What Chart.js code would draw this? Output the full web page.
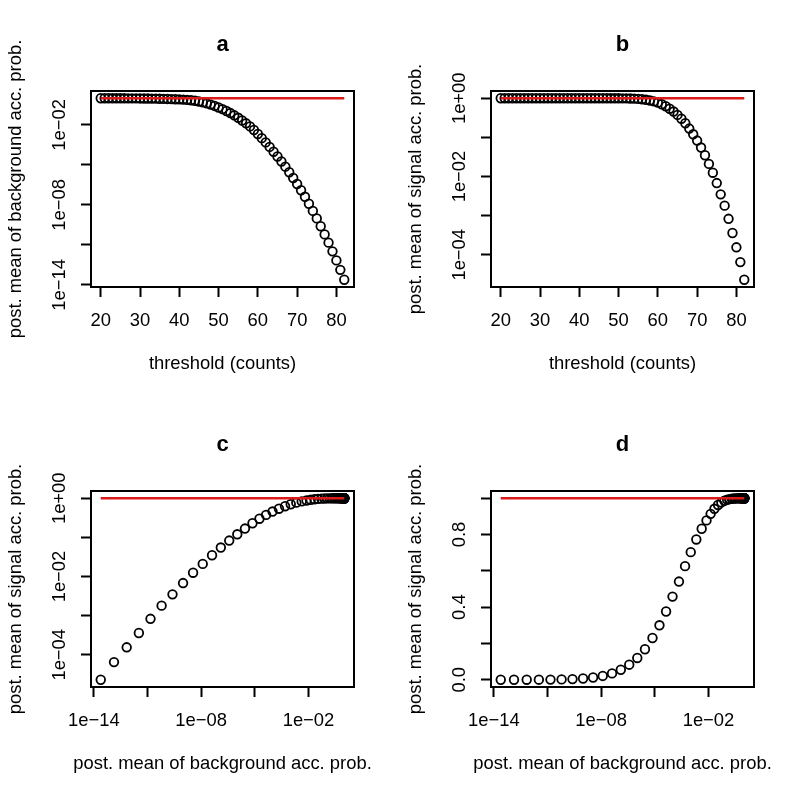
<!DOCTYPE html>
<html>
<head>
<meta charset="utf-8">
<script src="https://cdn.jsdelivr.net/npm/chart.js@4"></script>
<style>
  html, body { margin: 0; padding: 0; background: #fff; }
  #panels { display: grid; grid-template-columns: 400px 400px; width: 800px; height: 800px; }
  canvas { display: block; }
</style>
</head>
<body>
<div id="panels">
  <canvas id="panelA" width="400" height="400"></canvas>
  <canvas id="panelB" width="400" height="400"></canvas>
  <canvas id="panelC" width="400" height="400"></canvas>
  <canvas id="panelD" width="400" height="400"></canvas>
</div>
<script>
// threshold (counts)
const thresholds = [20, 21, 22, 23, 24, 25, 26, 27, 28, 29, 30, 31, 32, 33, 34, 35, 36, 37, 38, 39,
  40, 41, 42, 43, 44, 45, 46, 47, 48, 49, 50, 51, 52, 53, 54, 55, 56, 57, 58, 59,
  60, 61, 62, 63, 64, 65, 66, 67, 68, 69, 70, 71, 72, 73, 74, 75, 76, 77, 78, 79,
  80, 81, 82];

// post. mean of background acc. prob. (one per threshold)
const bgAccProb = [0.9988, 0.9977, 0.9966, 0.9954, 0.9931, 0.9908, 0.9886, 0.9840, 0.9795, 0.9750,
  0.9683, 0.9616, 0.9528, 0.9419, 0.9311, 0.9183, 0.9036, 0.8872, 0.8670, 0.8453,
  0.8204, 0.7925, 0.7586, 0.7079, 0.6457, 0.5689, 0.4898, 0.4102, 0.3334, 0.2649,
  0.2042, 0.1531, 0.1109, 0.0776, 0.0525, 0.0343, 0.0216, 0.0132, 0.00776, 0.00417,
  0.00209, 0.00102, 4.90e-4, 2.24e-4, 9.77e-5, 4.27e-5, 1.82e-5, 7.41e-6, 2.82e-6, 1.05e-6,
  3.72e-7, 1.26e-7, 4.07e-8, 1.23e-8, 3.55e-9, 9.77e-10, 2.51e-10, 6.17e-11, 1.48e-11, 3.31e-12,
  6.92e-13, 1.35e-13, 2.45e-14];

// post. mean of signal acc. prob. (one per threshold)
const sigAccProb = [0.99999, 0.99999, 0.99999, 0.99999, 0.99999, 0.99999, 0.99999, 0.99999, 0.99999, 0.99999,
  0.99999, 0.99999, 0.99999, 0.99999, 0.99999, 0.99999, 0.99999, 0.99999, 0.99999, 0.99999,
  0.99999, 0.99998, 0.99996, 0.99993, 0.99988, 0.9998, 0.99965, 0.9994, 0.999, 0.9983,
  0.9971, 0.995, 0.9915, 0.986, 0.977, 0.963, 0.942, 0.914, 0.878, 0.832,
  0.773, 0.703, 0.626, 0.541, 0.458, 0.376, 0.300, 0.230, 0.168, 0.120,
  0.083, 0.055, 0.035, 0.021, 0.0125, 0.0068, 0.0035, 0.0018, 0.00083, 0.00036,
  0.000155, 0.000065, 0.000023];

// red reference level
const refLevel = 1;

// tick positions and labels (empty label = tick mark only, as R drops overlapping ones)
const thresholdTicks = [20, 30, 40, 50, 60, 70, 80];
const thresholdTickLabels = ['20', '30', '40', '50', '60', '70', '80'];
const bgLogTicks = [1e-14, 1e-11, 1e-8, 1e-5, 1e-2];
const bgLogTickLabels = ['1e\u221214', '', '1e\u221208', '', '1e\u221202'];
const sigLogTicks = [1e-4, 1e-3, 1e-2, 1e-1, 1];
const sigLogTickLabels = ['1e\u221204', '', '1e\u221202', '', '1e+00'];
const sigLinTicks = [0, 0.2, 0.4, 0.6, 0.8, 1];
const sigLinTickLabels = ['0.0', '', '0.4', '', '0.8', ''];

const titleBg = 'post. mean of background acc. prob.';
const titleSig = 'post. mean of signal acc. prob.';
const titleThr = 'threshold (counts)';

const FONT_FAMILY = '"Liberation Sans", Arial, Helvetica, sans-serif';
const FONT_SIZE = 18.4;
const RED = '#dd1a1a';
const tickFont = { family: FONT_FAMILY, size: FONT_SIZE };

Chart.defaults.font.family = FONT_FAMILY;
Chart.defaults.color = '#000';

// layout of one panel, like R's par defaults at this size
const PLOT_LEFT = 91;
const PLOT_RIGHT_GAP = 46;
const PLOT_BOTTOM_GAP = 113;
const TICK_LEN = 10;
const Y_LABEL_CENTER = 59.5;
const X_TITLE_FROM_BOTTOM = 35.6;

const measureCtx = document.createElement('canvas').getContext('2d');
measureCtx.font = FONT_SIZE + 'px ' + FONT_FAMILY;
const widestLabel = labels => Math.max(...labels.map(l => measureCtx.measureText(l).width));

// R style range: data range widened by 4% each side
function rRange(values, log) {
    const v = log ? values.map(Math.log10) : values;
    const lo = Math.min(...v), hi = Math.max(...v);
    const pad = (hi - lo) * 0.04;
    return log ? [10 ** (lo - pad), 10 ** (hi + pad)] : [lo - pad, hi + pad];
}

function baseAxis(type, range, ticks, labels) {
    return {
        type, min: range[0], max: range[1], bounds: 'data',
        afterBuildTicks: s => { s.ticks = ticks.map(v => ({ value: v })); },
        ticks: { callback: (v, i) => labels[i], autoSkip: false, font: tickFont, color: '#000' },
        grid: { display: true, drawOnChartArea: false, drawTicks: true, tickLength: TICK_LEN, tickWidth: 2, tickColor: '#000' },
        border: { display: false }
    };
}

function xAxis(type, range, ticks, labels) {
    const ax = baseAxis(type, range, ticks, labels);
    ax.position = 'bottom';
    ax.afterFit = s => { s.height = PLOT_BOTTOM_GAP; };
    Object.assign(ax.ticks, { padding: 12.8, maxRotation: 0, minRotation: 0 });
    // title drawn by xTitle plugin: Chart.js would squeeze it to the plot width
    ax.title = { display: false };
    return ax;
}

function yAxis(type, range, ticks, labels, title) {
    const ax = baseAxis(type, range, ticks, labels);
    ax.position = 'left';
    ax.afterFit = s => { s.width = PLOT_LEFT; };
    const pad = PLOT_LEFT - TICK_LEN - Y_LABEL_CENTER - widestLabel(labels) / 2;
    Object.assign(ax.ticks, { padding: pad, minRotation: 90, maxRotation: 90, crossAlign: 'center' });
    ax.title = { display: true, text: title, font: tickFont, color: '#000', padding: { top: 4.8, bottom: 0 } };
    return ax;
}

// plot frame (R box())
const boxPlugin = {
    id: 'rbox',
    afterDraw(chart) {
        const { ctx, chartArea: a } = chart;
        ctx.save();
        ctx.strokeStyle = '#000';
        ctx.lineWidth = 2;
        ctx.strokeRect(a.left, a.top, a.right - a.left, a.bottom - a.top);
        ctx.restore();
    }
};

// x axis title, centred under the plot region and allowed to run wider than it
const xTitlePlugin = {
    id: 'xTitle',
    afterDraw(chart, args, opts) {
        const { ctx, chartArea: a } = chart;
        ctx.save();
        ctx.font = FONT_SIZE + 'px ' + FONT_FAMILY;
        ctx.fillStyle = '#000';
        ctx.textAlign = 'center';
        ctx.textBaseline = 'middle';
        ctx.fillText(opts.text, (a.left + a.right) / 2, chart.height - X_TITLE_FROM_BOTTOM);
        ctx.restore();
    }
};

function makePanel(id, letter, xs, ys, xScale, yScale, xTitle) {
    const points = xs.map((x, i) => ({ x, y: ys[i] }));
    const refLine = [{ x: Math.min(...xs), y: refLevel }, { x: Math.max(...xs), y: refLevel }];
    return new Chart(document.getElementById(id), {
        type: 'scatter',
        data: {
            datasets: [
                // first dataset is drawn last, so the red line sits on top of the circles
                { data: refLine, showLine: true, borderColor: RED, borderWidth: 2.6, pointRadius: 0, fill: false },
                { data: points, pointStyle: 'circle', pointRadius: 4.3, borderWidth: 1.8,
                  borderColor: '#000', backgroundColor: 'rgba(0,0,0,0)' }
            ]
        },
        options: {
            responsive: false,
            animation: false,
            layout: { padding: { left: 0, right: PLOT_RIGHT_GAP, top: 0, bottom: 0 }, autoPadding: false },
            scales: { x: xScale, y: yScale },
            plugins: {
                legend: { display: false },
                tooltip: { enabled: false },
                xTitle: { text: xTitle },
                title: { display: true, text: letter, fullSize: false, color: '#000',
                         font: { family: FONT_FAMILY, size: 22, weight: 'bold' },
                         padding: { top: 32, bottom: 32.6 } }
            }
        },
        plugins: [boxPlugin, xTitlePlugin]
    });
}

const thrRange = rRange(thresholds, false);
const bgRange = rRange(bgAccProb, true);
const sigLogRange = rRange(sigAccProb, true);
const sigLinRange = rRange(sigAccProb, false);

makePanel('panelA', 'a', thresholds, bgAccProb,
    xAxis('linear', thrRange, thresholdTicks, thresholdTickLabels),
    yAxis('logarithmic', bgRange, bgLogTicks, bgLogTickLabels, titleBg), titleThr);

makePanel('panelB', 'b', thresholds, sigAccProb,
    xAxis('linear', thrRange, thresholdTicks, thresholdTickLabels),
    yAxis('logarithmic', sigLogRange, sigLogTicks, sigLogTickLabels, titleSig), titleThr);

makePanel('panelC', 'c', bgAccProb, sigAccProb,
    xAxis('logarithmic', bgRange, bgLogTicks, bgLogTickLabels),
    yAxis('logarithmic', sigLogRange, sigLogTicks, sigLogTickLabels, titleSig), titleBg);

makePanel('panelD', 'd', bgAccProb, sigAccProb,
    xAxis('logarithmic', bgRange, bgLogTicks, bgLogTickLabels),
    yAxis('linear', sigLinRange, sigLinTicks, sigLinTickLabels, titleSig), titleBg);
</script>
</body>
</html>
